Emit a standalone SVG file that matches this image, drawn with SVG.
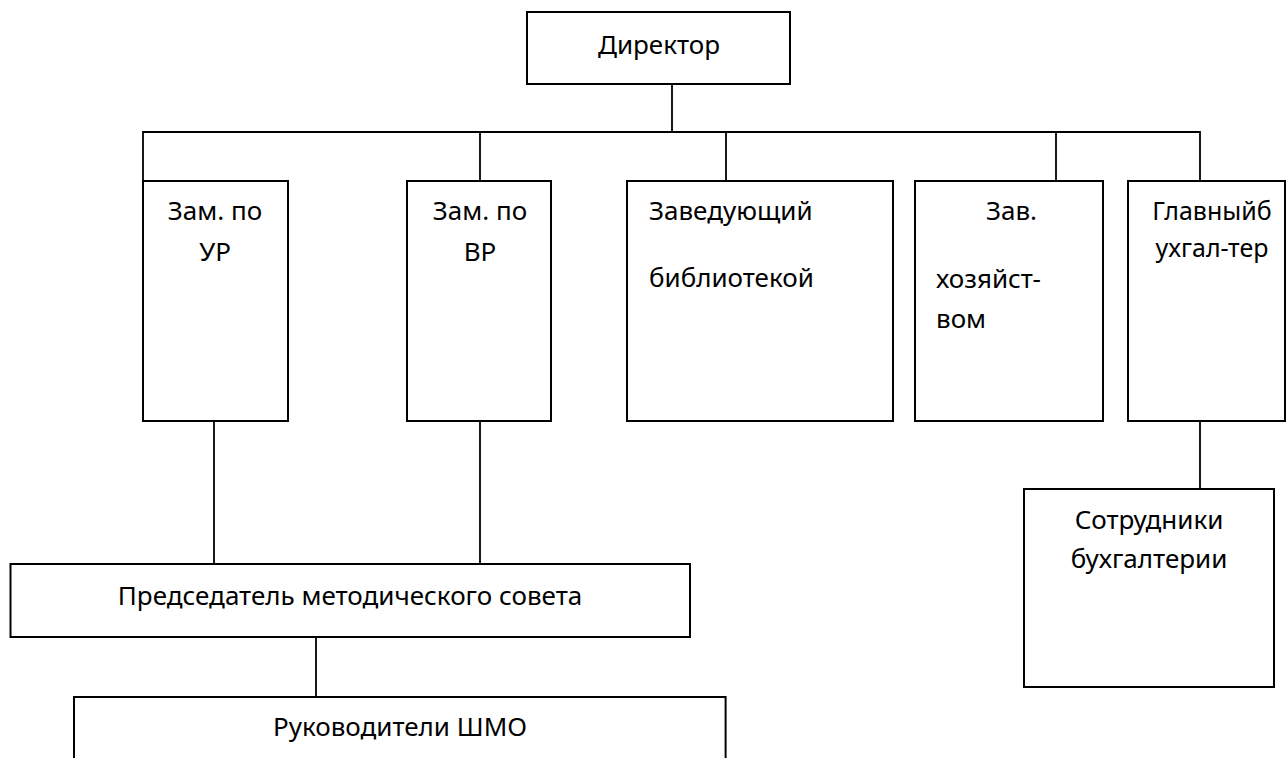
<svg xmlns="http://www.w3.org/2000/svg" width="1286" height="758" viewBox="0 0 1286 758">
<style>
.box{fill:#fff;stroke:#000;stroke-width:2}
.ln{fill:none;stroke:#000;stroke-width:1.8}
text{font-family:"Noto Sans","Open Sans","DejaVu Sans",sans-serif;font-size:26px;fill:#000}
.c{text-anchor:middle}
.s{font-size:25px}
</style>
<rect width="1286" height="758" fill="#fff"/>
<g id="connectors">
<path class="ln" d="M672,84 V132"/>
<path class="ln" d="M143,181 V132 H1200 V181"/>
<path class="ln" d="M480,132 V181"/>
<path class="ln" d="M726,132 V181"/>
<path class="ln" d="M1056,132 V181"/>
<path class="ln" d="M214,421 V564"/>
<path class="ln" d="M480,421 V564"/>
<path class="ln" d="M316,637 V697"/>
<path class="ln" d="M1200,421 V489"/>
</g>
<g id="director"><rect class="box" x="527" y="12" width="263" height="72"/><text class="c" x="659" y="54">Директор</text></g>
<g id="zam-ur"><rect class="box" x="143" y="181" width="145" height="240"/><text class="c" x="215" y="220">Зам. по</text><text class="c" x="215" y="261">УР</text></g>
<g id="zam-vr"><rect class="box" x="407" y="181" width="144" height="240"/><text class="c" x="480" y="220">Зам. по</text><text class="c" x="480" y="261">ВР</text></g>
<g id="zav-bibl"><rect class="box" x="627" y="181" width="266" height="240"/><text x="649" y="220">Заведующий</text><text x="649" y="287">библиотекой</text></g>
<g id="zav-hoz"><rect class="box" x="915" y="181" width="188" height="240"/><text x="986" y="220">Зав.</text><text x="936" y="288">хозяйст-</text><text x="936" y="328">вом</text></g>
<g id="glav-buh"><rect class="box" x="1128" y="181" width="157" height="240"/><text class="c s" x="1212" y="220">Главныйб</text><text class="c s" x="1212" y="257">ухгал-тер</text></g>
<g id="sotr-buh"><rect class="box" x="1024" y="489" width="250" height="198"/><text class="c" x="1149" y="529">Сотрудники</text><text class="c" x="1149" y="568">бухгалтерии</text></g>
<g id="predsedatel"><rect class="box" x="10.5" y="564" width="679.5" height="73"/><text class="c" x="350" y="605">Председатель методического совета</text></g>
<g id="ruk-shmo"><rect class="box" x="74" y="697" width="651.6" height="80"/><text class="c" x="400" y="736">Руководители ШМО</text></g>
</svg>
